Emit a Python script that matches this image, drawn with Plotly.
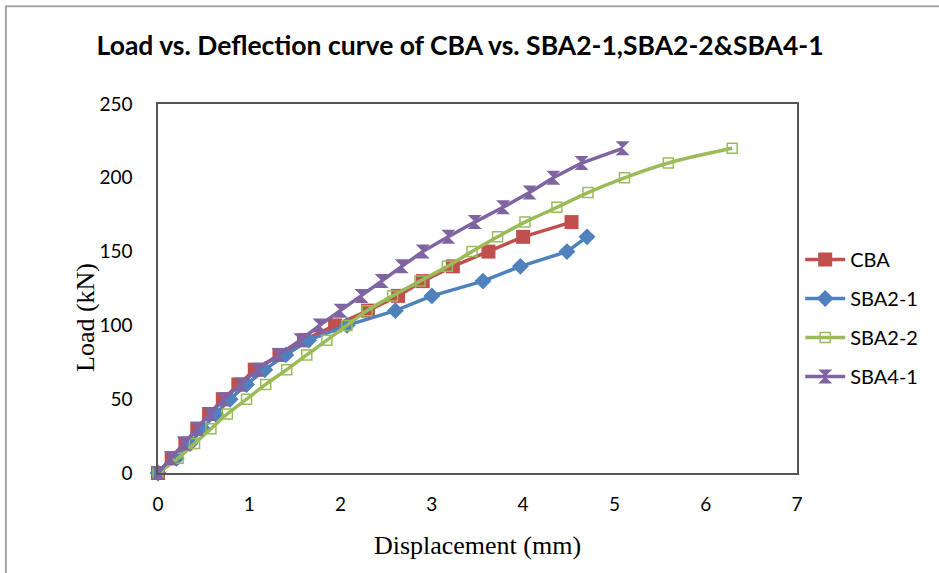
import plotly.graph_objects as go

cba_x = [0, 0.15, 0.30, 0.43, 0.56, 0.71, 0.88, 1.06, 1.33, 1.60, 1.94, 2.30, 2.63, 2.90, 3.23, 3.62, 4.00, 4.53]
cba_y = [0, 10, 20, 30, 40, 50, 60, 70, 80, 90, 100, 110, 120, 130, 140, 150, 160, 170]

sba21_x = [0, 0.20, 0.35, 0.49, 0.63, 0.79, 0.97, 1.17, 1.40, 1.65, 2.07, 2.60, 3.00, 3.56, 3.97, 4.48, 4.70]
sba21_y = [0, 10, 20, 30, 40, 50, 60, 70, 80, 90, 100, 110, 120, 130, 140, 150, 160]

sba22_x = [0, 0.22, 0.40, 0.58, 0.76, 0.97, 1.18, 1.41, 1.63, 1.85, 2.07, 2.29, 2.57, 2.87, 3.17, 3.44, 3.72, 4.02, 4.37, 4.71, 5.11, 5.59, 6.29]
sba22_y = [0, 10, 20, 30, 40, 50, 60, 70, 80, 90, 100, 110, 120, 130, 140, 150, 160, 170, 180, 190, 200, 210, 220]

sba41_x = [0, 0.14, 0.28, 0.43, 0.57, 0.72, 0.91, 1.09, 1.32, 1.56, 1.77, 2.00, 2.23, 2.45, 2.67, 2.90, 3.18, 3.47, 3.78, 4.07, 4.33, 4.64, 5.09]
sba41_y = [0, 10, 20, 30, 40, 50, 60, 70, 80, 90, 100, 110, 120, 130, 140, 150, 160, 170, 180, 190, 200, 210, 220]

x_ticks = [0, 1, 2, 3, 4, 5, 6, 7]
y_ticks = [0, 50, 100, 150, 200, 250]

fig = go.Figure()
fig.add_trace(go.Scatter(x=cba_x, y=cba_y, name="CBA", mode="lines+markers", legendgroup="a",
                         line=dict(color="#C0504D", width=3.5),
                         marker=dict(symbol="square", size=14, color="#C0504D"),
                         cliponaxis=False))
fig.add_trace(go.Scatter(x=sba21_x, y=sba21_y, name="SBA2-1", mode="lines+markers", legendgroup="b",
                         line=dict(color="#4F81BD", width=3.5),
                         marker=dict(symbol="diamond", size=13, color="#4F81BD"),
                         cliponaxis=False))
fig.add_trace(go.Scatter(x=sba22_x, y=sba22_y, name="SBA2-2", mode="lines+markers", legendgroup="c",
                         line=dict(color="#9BBB59", width=3.5, shape="spline"),
                         marker=dict(symbol="square-open", size=10, color="#9BBB59",
                                     line=dict(width=1.5)),
                         cliponaxis=False))
fig.add_trace(go.Scatter(x=sba41_x, y=sba41_y, name="SBA4-1", mode="lines+markers", legendgroup="d",
                         line=dict(color="#8064A2", width=3.5),
                         marker=dict(symbol="hourglass", size=14, color="#8064A2"),
                         cliponaxis=False))

fig.update_layout(
    width=939, height=573,
    margin=dict(l=158, r=142, t=104, b=100),
    paper_bgcolor="white", plot_bgcolor="white",
    title=dict(text="<b>Load vs. Deflection curve of CBA vs. SBA2-1,SBA2-2&SBA4-1</b>",
               x=0.49, xanchor="center", y=0.92, yanchor="middle",
               font=dict(family="Lato", size=26.5, color="#000000")),
    xaxis=dict(range=[0, 7], tickvals=x_ticks, showgrid=False, zeroline=False,
               showline=True, mirror=True, linecolor="#555555", linewidth=1.5,
               ticks="", ticklabelstandoff=13,
               tickfont=dict(family="Lato", size=19, color="#000000"),
               title=dict(text="Displacement (mm)", standoff=22,
                          font=dict(family="Liberation Serif", size=26, color="#000000"))),
    yaxis=dict(range=[0, 250], tickvals=y_ticks, showgrid=False, zeroline=False,
               showline=True, mirror=True, linecolor="#555555", linewidth=1.5,
               ticks="", ticklabelstandoff=20,
               tickfont=dict(family="Lato", size=19, color="#000000")),
    annotations=[dict(text="Load (kN)", xref="paper", yref="paper",
                      x=(85 - 158) / 639, y=(473 - 318) / 369,
                      xanchor="center", yanchor="middle", textangle=-90, showarrow=False,
                      font=dict(family="Liberation Serif", size=26, color="#000000"))],
    legend=dict(x=1.005, xanchor="left", y=0.42, yanchor="middle",
                font=dict(family="Lato", size=20, color="#000000"),
                itemwidth=40, tracegroupgap=10, bgcolor="rgba(0,0,0,0)"),
    shapes=[dict(type="rect", xref="paper", yref="paper",
                 x0=-0.238, x1=1.3, y0=-0.35, y1=1.265,
                 line=dict(color="#a6a6a6", width=2), fillcolor="rgba(0,0,0,0)", layer="below")],
)

fig.write_html("out.html")
